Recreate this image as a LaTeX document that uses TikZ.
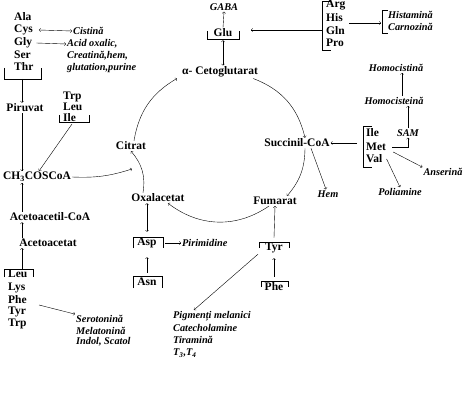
\documentclass[tikz,border=0pt]{standalone}
\usepackage{fontspec}
\setmainfont{Liberation Serif}
\usetikzlibrary{calc}

\begin{document}
\begin{tikzpicture}[x=1pt, y=1pt,
    met/.style={font=\fontsize{11.5}{13}\selectfont\bfseries, inner sep=1pt},
    prod/.style={font=\fontsize{10.3}{12}\selectfont\bfseries\itshape, inner sep=1pt}]
    \useasboundingbox (0,0) rectangle (468,-403);
    % left column
    \node[met, anchor=west] (ala) at (13,-17) {Ala};
    \node[met, anchor=west] (cys) at (13,-30) {Cys};
    \node[met, anchor=west] (gly) at (13,-43) {Gly};
    \node[met, anchor=west] (ser) at (13,-55) {Ser};
    \node[met, anchor=west] (thr) at (13,-67) {Thr};
    \draw (4,-68) -- (4,-79) -- (41,-79) -- (41,-68);
    \coordinate (thrbr) at (22,-79);
    \node[prod, anchor=west] (cistina) at (72,-31) {Cistină};
    \node[prod, anchor=west] (acid) at (66,-44) {Acid oxalic,};
    \node[prod, anchor=west] (creatina) at (66,-56) {Creatină,hem,};
    \node[prod, anchor=west] (glutation) at (66,-68) {glutation,purine};
    \draw[<->] ([xshift=5pt]cys.east) -- (cistina.west);
    \draw[->] ([xshift=3pt]gly.east) -- (acid.west);
    \node[met] (piruvat) at (25,-108) {Piruvat};
    \draw[->] (thrbr) -- (thrbr |- piruvat.north);
    \node[met, anchor=west] (trp) at (62,-97) {Trp};
    \node[met, anchor=west] (leu) at (62,-107) {Leu};
    \node[met, anchor=west] (ile) at (62,-118) {Ile};
    \draw (59,-115) -- (59,-122) -- (89,-122) -- (89,-115);
    \coordinate (ilebr) at (72,-124);
    \node[met] (ch3) at (37,-177) {CH\textsubscript{3}COSCoA};
    \draw[->] (thrbr |- piruvat.south) -- (thrbr |- ch3.north);
    \draw[->] (ilebr) -- ([xshift=2pt]ch3.north);
    \node[met] (acetil) at (50,-217) {Acetoacetil-CoA};
    \node[met] (acetat) at (48,-243) {Acetoacetat};
    \draw[->] (thrbr |- acetil.north) -- (thrbr |- ch3.south);
    \draw[->] (thrbr |- acetat.north) -- (thrbr |- acetil.south);
    \node[met, anchor=west] (leu2) at (7,-274) {Leu};
    \node[met, anchor=west] (lys) at (7,-288) {Lys};
    \node[met, anchor=west] (phe2) at (7,-300) {Phe};
    \node[met, anchor=west] (tyr2) at (7,-312) {Tyr};
    \node[met, anchor=west] (trp2) at (7,-324) {Trp};
    \draw (4,-277) -- (4,-269) -- (33,-269) -- (33,-277);
    \coordinate (leubr) at (22,-269);
    \draw[->] (leubr) -- (thrbr |- acetat.south);
    \node[prod, anchor=west] (serot) at (75,-319) {Serotonină};
    \node[prod, anchor=west] (melat) at (75,-331) {Melatonină};
    \node[prod, anchor=west] (indol) at (75,-342) {Indol, Scatol};
    \coordinate (phear) at (39,-305);
    \draw[->] (phear) -- (serot.north west);
    % cycle
    \node[met] (akg) at (220,-72) {α- Cetoglutarat};
    \node[met] (succinil) at (297,-143) {Succinil-CoA};
    \node[met] (fumarat) at (275,-201) {Fumarat};
    \node[met] (oxal) at (158,-198) {Oxalacetat};
    \node[met] (citrat) at (131,-146) {Citrat};
    \coordinate (join) at (132,-169);
    \draw[->] ([xshift=3pt]citrat.north) to[bend left=25] ([xshift=-4pt]akg.south west);
    \draw[->] ([xshift=-6pt]akg.south east) to[bend left=28] ([xshift=8pt]succinil.north);
    \draw[->] ([xshift=8pt]succinil.south) to[bend left=20] ([xshift=12pt]fumarat.north);
    \draw[->] ([xshift=-6pt]fumarat.south) to[bend left=36] ([xshift=10pt]oxal.south);
    \draw[->] ([xshift=-15pt]oxal.north) to[bend right=25] (citrat.south);
    \draw[->] (ch3.east) to[bend right=10] (join);
    % Glu
    \node[met] (glu) at (223,-33) {Glu};
    \node[prod] (gaba) at (224,-7) {GABA};
    \draw (207,-31) -- (207,-39) -- (239,-39) -- (239,-31);
    \draw[->] (glu.north) -- (gaba.south);
    \draw[<->] (akg.north -| glu) -- ([yshift=-2pt]glu.south);
    \node[met, anchor=west] (arg) at (325,-5) {Arg};
    \node[met, anchor=west] (his) at (325,-18) {His};
    \node[met, anchor=west] (gln) at (325,-31) {Gln};
    \node[met, anchor=west] (pro) at (325,-43) {Pro};
    \draw (331,-1) -- (322,-1) -- (322,-50) -- (331,-50);
    \coordinate (argbr) at (322,-30);
    \coordinate (gluin) at (251,-30);
    \draw[->] (argbr) -- (gluin);
    \node[prod, anchor=west] (histamina) at (387,-15) {Histamină};
    \node[prod, anchor=west] (carnozina) at (387,-27) {Carnozină};
    \draw (388,-10) -- (382,-10) -- (382,-33) -- (388,-33);
    \coordinate (hisar) at (349,-23);
    \coordinate (histbr) at (381,-23);
    \draw[->] (hisar) -- (histbr);
    % Met
    \node[prod] (homocistina) at (396,-68) {Homocistină};
    \node[prod] (homocisteina) at (394,-101) {Homocisteină};
    \node[prod] (sam) at (408,-133) {SAM};
    \node[met, anchor=west] (ile3) at (365,-133) {Ile};
    \node[met, anchor=west] (met) at (365,-147) {Met};
    \node[met, anchor=west] (val) at (365,-159) {Val};
    \draw (372,-126) -- (363,-126) -- (363,-167) -- (372,-167);
    \coordinate (metbr) at (357,-143);
    \draw[->] (metbr) -- (succinil.east);
    \draw[->] ([xshift=5pt]met.east) -| (sam.south);
    \draw[->] (sam.north) -- (sam.north |- homocisteina.south);
    \draw[->] ([xshift=8pt]homocisteina.north) -- ([xshift=8pt]homocisteina.north |- homocistina.south);
    \node[prod] (anserina) at (443,-172) {Anserină};
    \node[prod] (poliamine) at (400,-192) {Poliamine};
    \draw[->] ([xshift=6pt]met.south east) -- (anserina.north west);
    \draw[->] ([xshift=3pt]val.east) -- (poliamine.north);
    \node[prod] (hem) at (328,-194) {Hem};
    \draw[->] ([xshift=14pt]succinil.south) -- ([xshift=-2pt]hem.north);
    % Asp, Tyr
    \node[met] (asp) at (147,-243) {Asp};
    \draw (133,-248) -- (133,-237) -- (163,-237) -- (163,-248);
    \draw[<->] (oxal.south -| asp) -- ([yshift=5pt]asp.north);
    \node[prod, anchor=west] (pirimidine) at (181,-243) {Pirimidine};
    \draw[->] ([xshift=7pt]asp.east) -- (pirimidine.west);
    \node[met] (asn) at (147,-282) {Asn};
    \draw (133,-288) -- (133,-276) -- (162,-276) -- (162,-288);
    \draw[->] ([yshift=4pt]asn.north) -- ([yshift=-8pt]asp.south);
    \node[met] (tyr) at (274,-248) {Tyr};
    \draw (259,-248) -- (259,-242) -- (289,-242) -- (289,-248);
    \draw[->] ([yshift=4pt]tyr.north) -- (fumarat.south);
    \node[met] (phe) at (274,-287) {Phe};
    \draw (261,-287) -- (261,-281) -- (288,-281) -- (288,-287);
    \draw[->] ([yshift=5pt]phe.north) -- ([yshift=-4pt]tyr.south);
    \node[prod, anchor=west] (pigment) at (172,-316) {Pigmenți melanici};
    \node[prod, anchor=west] (catechol) at (172,-328) {Catecholamine};
    \node[prod, anchor=west] (tiramina) at (172,-340) {Tiramină};
    \node[prod, anchor=west] (t34) at (172,-353) {T\textsubscript{3},T\textsubscript{4}};
    \draw[->] ([xshift=-6pt]tyr.south west) -- ([xshift=22pt]pigment.north west);
\end{tikzpicture}
\end{document}
